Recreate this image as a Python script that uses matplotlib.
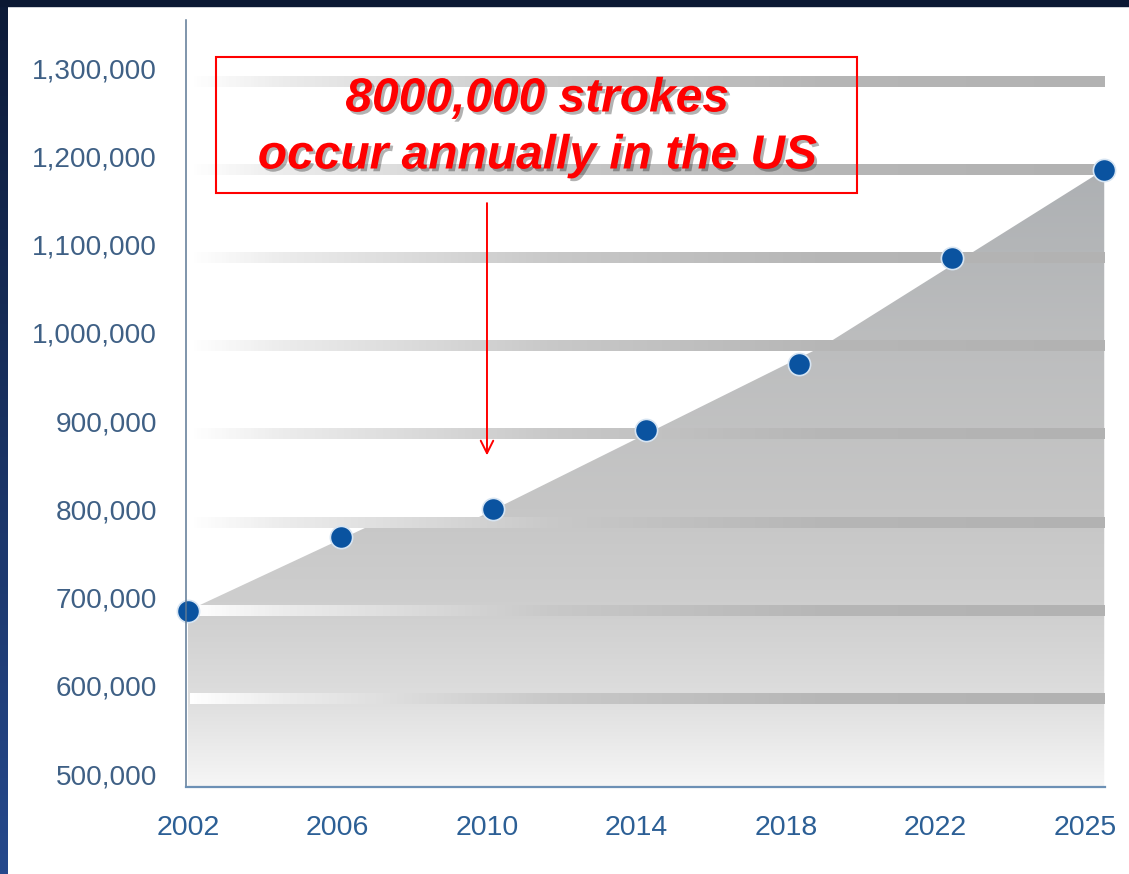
import numpy as np
import matplotlib.pyplot as plt
import matplotlib.patheffects as pe
from matplotlib.colors import LinearSegmentedColormap
from matplotlib.patches import Polygon, Rectangle
from matplotlib.transforms import ScaledTranslation

plt.rcParams['font.family'] = ['Liberation Sans', 'DejaVu Sans']

# data
years = ['2002', '2006', '2010', '2014', '2018', '2022', '2025']
strokes = [700000, 783000, 815000, 905000, 980000, 1100000, 1200000]

# outline of the grey shaded area (x in year slots)
area_x = [0, 1.2, 1.8, 4.16, 6]
area_y = [700000, 797000, 797000, 1000000, 1200000]

y_ticks = [500000, 600000, 700000, 800000, 900000,
           1000000, 1100000, 1200000, 1300000]
grid_values = y_ticks[1:]

note = '8000,000 strokes\noccur annually in the US'


fig = plt.figure(figsize=(11.29, 8.74), dpi=100)
fig.patch.set_facecolor('white')

# dark frame on the left and top
side = fig.add_axes([0, 0, 8 / 1129, 1])
side_cmap = LinearSegmentedColormap.from_list('side', ['#26498c', '#0d1b38'])
side.imshow(np.linspace(0, 1, 256).reshape(-1, 1), cmap=side_cmap,
            aspect='auto', origin='lower')
side.axis('off')
fig.patches.append(Rectangle((0, 1 - 6 / 874), 1, 6 / 874,
                             transform=fig.transFigure, color='#0b1833'))

ax = fig.add_axes([186 / 1129, 87 / 874, 919 / 1129, 767 / 874])

# shaded area with vertical gradient
verts = list(zip(area_x, area_y)) + [(area_x[-1], y_ticks[0]), (area_x[0], y_ticks[0])]
poly = Polygon(verts, facecolor='none', edgecolor='none')
ax.add_patch(poly)
area_cmap = LinearSegmentedColormap.from_list(
    'area', [(0, '#f6f6f6'), (0.14, '#dedede'), (0.28, '#cfcfcf'),
             (0.45, '#c6c6c6'), (0.72, '#bcbdbe'), (1, '#adb0b3')])
grad = np.linspace(0, 1, 256).reshape(-1, 1)
im = ax.imshow(grad, extent=[area_x[0], area_x[-1], y_ticks[0], max(area_y)],
               origin='lower', aspect='auto', cmap=area_cmap, zorder=1)
im.set_clip_path(poly)

# faded horizontal bands
band_cmap = LinearSegmentedColormap.from_list(
    'band', [(0, '#ffffff'), (0.1, '#ececec'), (0.4, '#c8c8c8'),
             (0.7, '#b6b6b6'), (1, '#b2b2b2')])
hgrad = np.linspace(0, 1, 256).reshape(1, -1)
for v in grid_values:
    ax.imshow(hgrad, extent=[0.01, 6.0, v - 6000, v + 6000],
              aspect='auto', cmap=band_cmap, zorder=2)

# points
ax.plot(range(len(years)), strokes, 'o', ms=16, color='#0a53a0',
        mec='#d6e4f2', mew=1.2, zorder=5, clip_on=False)

ax.set_xlim(-0.013, 6.005)
ax.set_ylim(500000, 1369600)

# axes styling
for s in ['top', 'right']:
    ax.spines[s].set_visible(False)
ax.spines['left'].set_color('#5d7894')
ax.spines['left'].set_linewidth(1.1)
ax.spines['bottom'].set_color('#6c90b5')
ax.spines['bottom'].set_linewidth(1.6)
ax.spines['left'].set_zorder(6)
ax.spines['bottom'].set_zorder(6)

xt = np.arange(len(years)) * 0.979
ax.set_xticks(xt)
ax.set_xticklabels(years)
ax.set_yticks(y_ticks)
ax.set_yticklabels([f'{v:,}' for v in y_ticks])
ax.tick_params(axis='x', length=0, pad=20, labelsize=20.5, labelcolor='#2c5f95')
ax.tick_params(axis='y', length=0, pad=21, labelsize=20.2, labelcolor='#3f6085')
shift = ScaledTranslation(0, 0.13, fig.dpi_scale_trans)
for lab in ax.get_yticklabels():
    lab.set_transform(lab.get_transform() + shift)

# red note box and arrow
fig.patches.append(Rectangle((216 / 1129, 1 - 193 / 874), 641 / 1129, 136 / 874,
                             transform=fig.transFigure, fill=False,
                             edgecolor='#ff0000', linewidth=1.5, zorder=10))
shadow = [pe.withSimplePatchShadow(offset=(2, -2), shadow_rgbFace='black', alpha=0.3)]
for i, line in enumerate(note.split('\n')):
    fig.text(537 / 1129, 1 - (99 + 57 * i) / 874, line, ha='center', va='center',
             fontsize=34.5, fontweight='bold', style='italic', color='#ff0000',
             path_effects=shadow, zorder=11)

ax.annotate('', xy=(xt[2], 876000), xytext=(xt[2], 1162000),
            arrowprops=dict(arrowstyle='->,head_length=0.9,head_width=0.45',
                            color='#ff0000', lw=1.4, shrinkA=0, shrinkB=0),
            zorder=7)

plt.savefig('out.png', dpi=100)
